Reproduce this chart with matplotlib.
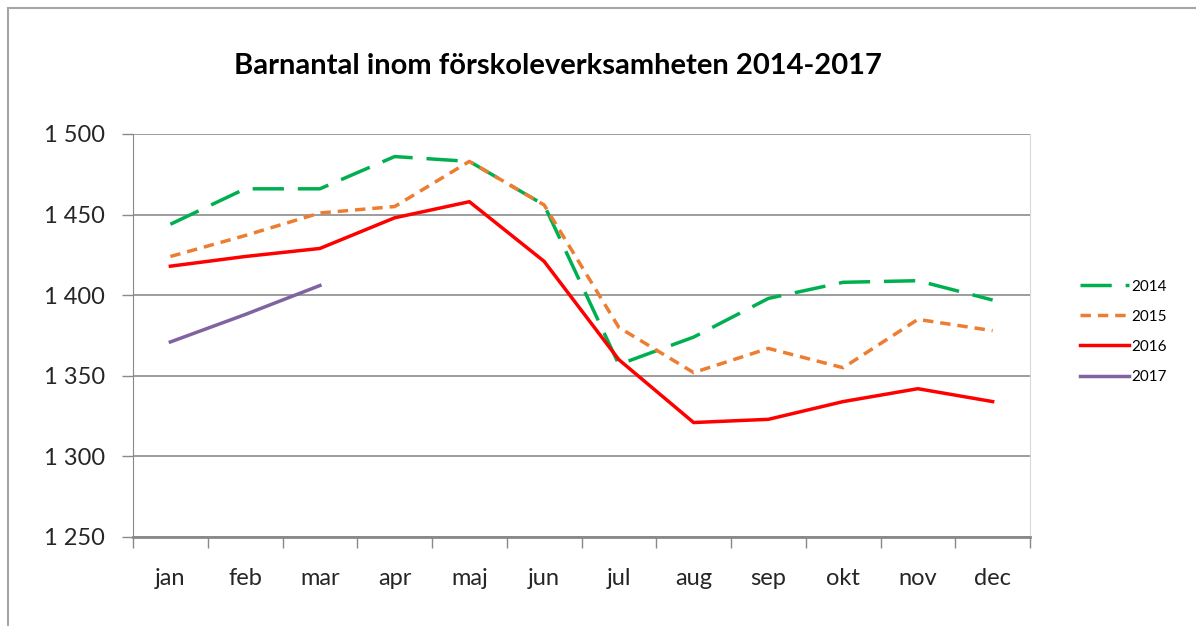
import matplotlib.pyplot as plt
from matplotlib.patches import Rectangle
from matplotlib.ticker import FuncFormatter

months = ['jan', 'feb', 'mar', 'apr', 'maj', 'jun', 'jul', 'aug', 'sep', 'okt', 'nov', 'dec']
y2014 = [1444, 1466, 1466, 1486, 1483, 1456, 1357, 1374, 1398, 1408, 1409, 1397]
y2015 = [1424, 1437, 1451, 1455, 1483, 1456, 1380, 1352, 1367, 1355, 1385, 1378]
y2016 = [1418, 1424, 1429, 1448, 1458, 1421, 1360, 1321, 1323, 1334, 1342, 1334]
y2017 = [1371, 1388, 1406]
yticks = [1250, 1300, 1350, 1400, 1450, 1500]


def main():
    plt.rcParams['font.family'] = ['Lato', 'DejaVu Sans']
    fig = plt.figure(figsize=(11.96, 6.26), dpi=100)
    W, H = 1196, 626

    # outer chart frame (cut off at right and bottom)
    fig.patches.append(Rectangle((8 / W, -0.1), 1.2, (H - 8) / H + 0.1, transform=fig.transFigure,
                                 fill=False, edgecolor='#a6a6a6', linewidth=1.5))

    ax = fig.add_axes([133 / W, (H - 537) / H, 897 / W, 403 / H])
    x = list(range(len(months)))

    ax.plot(x, y2014, color='#00B050', lw=2.5, dashes=(9, 4), label='2014')
    ax.plot(x, y2015, color='#ED7D31', lw=2.5, dashes=(3, 2), label='2015')
    ax.plot(x, y2016, color='#FF0000', lw=2.5, label='2016')
    ax.plot(x[:len(y2017)], y2017, color='#8064A2', lw=2.5, label='2017')

    ax.set_xlim(-0.5, len(months) - 0.5)
    ax.set_ylim(1250, 1500)
    ax.set_yticks(yticks)
    ax.yaxis.set_major_formatter(FuncFormatter(lambda v, p: f'{int(v):,}'.replace(',', ' ')))
    ax.set_xticks(x)
    ax.set_xticklabels(months)
    ax.set_xticks([i - 0.5 for i in range(len(months) + 1)], minor=True)
    ax.tick_params(axis='x', which='major', length=0, pad=22, labelsize=17, colors='#262626')
    ax.tick_params(axis='x', which='minor', length=8, width=1, color='#898989', direction='out')
    ax.tick_params(axis='y', length=8, width=1, color='#898989', labelsize=17, labelcolor='#262626', pad=12)

    ax.grid(axis='y', color='#8c8c8c', lw=1.2)
    ax.set_axisbelow(True)
    ax.spines['top'].set_visible(False)
    ax.spines['right'].set_color('#d9d9d9')
    ax.spines['left'].set_color('#898989')
    ax.spines['bottom'].set_color('#898989')
    ax.spines['bottom'].set_linewidth(2)

    fig.text(558 / W, 1 - 66 / H, 'Barnantal inom förskoleverksamheten 2014-2017',
             ha='center', va='center', fontsize=21, fontweight='bold', color='black')

    fig.legend(loc='upper left', bbox_to_anchor=(1066 / W, 1 - 266 / H), frameon=False,
               fontsize=11, handlelength=3.2, handletextpad=0.2, labelspacing=1.05)

    fig.savefig('out.png', dpi=100)
    plt.close(fig)


if __name__ == "__main__":
    main()
